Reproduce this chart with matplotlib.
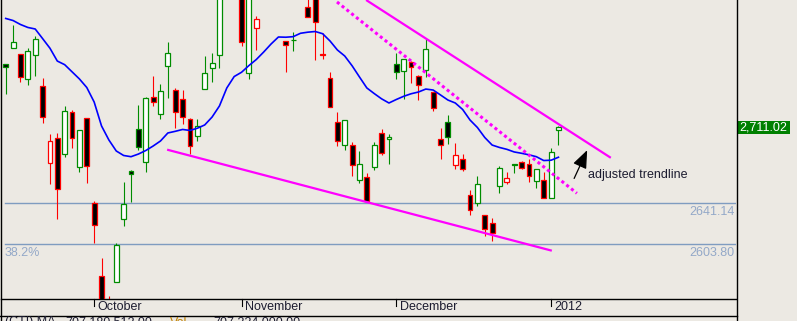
import matplotlib
matplotlib.use("Agg")
import matplotlib.pyplot as plt
from matplotlib.patches import Rectangle, FancyArrowPatch
from matplotlib.lines import Line2D

plt.rcParams['font.family'] = ['Liberation Sans', 'DejaVu Sans']

# daily bars, index 0..75 (a few sit above the visible range)
opens = [2767.7, 2782.3, 2776.9, 2754.6, 2775.9, 2747.7, 2678.1, 2700.4, 2686.3, 2724.0,
         2673.9, 2718.6, 2641.7, 2574.7, 2548.0, 2569.2, 2627.1, 2670.3, 2708.5, 2679.0,
         2737.7, 2722.2, 2766.5, 2744.1, 2736.4, 2718.2, 2702.2, 2745.0, 2764.1, 2775.9,
         2835.0, 2850.0, 2840.0, 2759.5, 2800.5, 2830.0, 2845.0, 2842.0, 2788.7, 2789.6,
         2835.0, 2819.7, 2830.0, 2777.1, 2755.0, 2714.9, 2694.5, 2694.0, 2662.1, 2664.8,
         2674.5, 2704.9, 2699.4, 2767.7, 2761.9, 2770.1, 2756.8, 2762.3, 2742.2, 2699.4,
         2714.9, 2675.8, 2681.2, 2649.0, 2641.7, 2630.2, 2622.9, 2656.6, 2660.3, 2677.0,
         2678.5, 2676.7, 2661.2, 2662.1, 2645.7, 2707.6]
highs = [2767.9, 2803.5, 2777.5, 2782.3, 2793.5, 2755.3, 2704.3, 2704.9, 2729.8, 2726.1,
         2707.6, 2718.6, 2643.2, 2591.6, 2557.0, 2604.7, 2660.6, 2671.5, 2730.7, 2737.7,
         2757.1, 2749.8, 2788.1, 2745.9, 2744.3, 2718.5, 2717.9, 2775.3, 2778.0, 2838.0,
         2858.0, 2862.0, 2848.0, 2836.0, 2811.7, 2850.0, 2860.0, 2855.0, 2789.0, 2797.2,
         2845.0, 2830.0, 2836.0, 2796.0, 2760.7, 2724.3, 2716.7, 2696.7, 2688.8, 2668.5,
         2697.0, 2708.5, 2704.0, 2777.8, 2772.3, 2770.7, 2758.3, 2790.5, 2742.8, 2709.7,
         2721.6, 2695.8, 2686.1, 2653.0, 2666.0, 2630.5, 2627.5, 2675.1, 2669.7, 2677.0,
         2679.4, 2681.2, 2672.1, 2669.7, 2691.5, 2711.3]
lows = [2740.7, 2782.3, 2751.9, 2749.2, 2757.1, 2714.6, 2659.0, 2627.1, 2683.6, 2691.8,
        2669.7, 2659.9, 2605.3, 2530.0, 2525.0, 2569.2, 2620.8, 2642.3, 2689.7, 2669.7,
        2729.8, 2718.2, 2737.3, 2710.0, 2713.4, 2686.1, 2698.2, 2745.0, 2751.9, 2764.6,
        2830.0, 2836.0, 2784.7, 2754.6, 2780.8, 2828.0, 2835.0, 2830.0, 2761.0, 2780.1,
        2828.0, 2810.5, 2771.7, 2772.8, 2729.1, 2693.6, 2690.0, 2666.3, 2659.9, 2643.5,
        2671.8, 2685.1, 2677.0, 2754.6, 2736.4, 2751.0, 2735.5, 2755.9, 2725.5, 2681.8,
        2695.4, 2672.7, 2670.8, 2630.8, 2639.0, 2611.7, 2607.1, 2650.8, 2658.7, 2669.0,
        2672.4, 2660.6, 2655.4, 2645.7, 2645.7, 2694.3]
closes = [2765.0, 2787.8, 2755.9, 2779.9, 2790.5, 2719.5, 2697.6, 2653.9, 2724.9, 2700.4,
          2707.6, 2675.1, 2621.1, 2540.0, 2535.0, 2603.2, 2640.2, 2667.6, 2692.2, 2736.8,
          2733.1, 2743.2, 2777.8, 2724.0, 2719.5, 2693.3, 2711.3, 2759.5, 2768.7, 2832.0,
          2850.0, 2845.0, 2787.8, 2830.0, 2808.7, 2845.0, 2840.0, 2836.0, 2785.6, 2790.2,
          2832.0, 2810.5, 2806.0, 2776.6, 2729.1, 2697.6, 2716.7, 2675.8, 2676.7, 2643.5,
          2694.0, 2687.2, 2701.3, 2760.5, 2772.3, 2765.0, 2748.6, 2781.4, 2727.7, 2694.0,
          2701.5, 2684.9, 2672.1, 2634.8, 2658.5, 2617.5, 2613.8, 2673.0, 2663.9, 2675.8,
          2673.0, 2665.7, 2672.1, 2645.7, 2687.6, 2711.02]
# outline colour: 1 = green (up day), 0 = red (down day)
up_day = [1, 1, 0, 1, 1, 0, 0, 0, 1, 0,
          1, 0, 0, 0, 0, 1, 1, 1, 1, 1,
          0, 1, 1, 0, 0, 0, 1, 1, 1, 1,
          1, 0, 0, 1, 0, 1, 0, 0, 0, 1,
          1, 0, 0, 0, 0, 0, 1, 0, 1, 0,
          1, 0, 1, 1, 1, 0, 0, 1, 0, 0,
          1, 0, 0, 0, 1, 0, 0, 1, 0, 1,
          0, 0, 1, 0, 1, 1]
moving_avg = [2809.5, 2807.6, 2804.0, 2801.3, 2799.9, 2791.2, 2782.4, 2770.7, 2767.4, 2760.9,
              2754.4, 2746.6, 2733.4, 2711.6, 2698.8, 2688.8, 2684.7, 2683.6, 2686.0, 2689.2,
              2693.3, 2697.9, 2705.2, 2706.7, 2708.4, 2707.5, 2709.5, 2712.5, 2719.7, 2729.8,
              2746.2, 2756.6, 2760.5, 2766.6, 2772.1, 2778.9, 2786.2, 2792.6, 2792.4, 2792.9,
              2796.0, 2797.0, 2797.6, 2795.6, 2789.0, 2780.8, 2775.3, 2766.4, 2756.2, 2746.2,
              2741.1, 2736.3, 2732.5, 2735.7, 2738.6, 2740.9, 2742.5, 2745.2, 2744.3, 2739.8,
              2735.2, 2732.5, 2726.6, 2717.0, 2710.2, 2701.1, 2694.2, 2692.0, 2690.3, 2687.9,
              2686.7, 2685.3, 2683.6, 2680.1, 2680.4, 2683.1]

month_pos = [12, 32, 53, 74]
month_labels = ['October', 'November', 'December', '2012']

fib_levels = [2641.14, 2603.80]
fib_texts = ['2641.14', '2603.80']

# hand drawn trendlines (bar index, price)
support_x = [21.9, 74.1]
support_y = [2690.0, 2598.0]
resist_x = [48.9, 82.1]
resist_y = [2826.3, 2682.6]
dotted_x = [44.95, 77.5]
dotted_y = [2824.5, 2650.3]
note_text = 'adjusted trendline'
note_xy = (79.05, 2667.2)
arrow_from = (76.97, 2661.5)
arrow_to = (79.05, 2691.8)

last_price = '2,711.02'

BG = '#ece9e3'
RED = '#ff0000'
GREEN = '#008c00'
MAG = '#ff00ff'
FIB = '#7f9cc0'
TXT = '#1c1c30'

W, H = 797, 321
fig = plt.figure(figsize=(W / 100, H / 100), dpi=100, facecolor=BG)
ax = fig.add_axes([1 / W, 1 - 299 / H, 735 / W, 299 / H], facecolor=BG)
ax.set_xlim(-0.64, 99.09)
ax.set_ylim(2554.0, 2826.3)

for lv, lt in zip(fib_levels, fib_texts):
    ax.plot([-0.1, 99.09], [lv, lv], color=FIB, lw=1.0, zorder=1)
    ax.text(0.998, lv - 2.0, lt, transform=ax.get_yaxis_transform(), ha='right', va='top',
            fontsize=9, color='#93a8c8')
ax.text(-0.1, fib_levels[1] - 2.0, '38.2%', ha='left', va='top', fontsize=9, color='#93a8c8')

body_w = 0.66
for i in range(len(opens)):
    o, h, l, c = opens[i], highs[i], lows[i], closes[i]
    edge = GREEN if up_day[i] else RED
    ax.plot([i, i], [l, h], color=edge, lw=0.8, zorder=2, solid_capstyle='butt')
    face = 'white' if c > o else 'black'
    bottom = min(o, c)
    height = max(abs(c - o), 0.3)
    ax.add_patch(Rectangle((i - body_w / 2, bottom), body_w, height, facecolor=face,
                           edgecolor=edge, lw=0.9, zorder=3))

ax.plot(range(len(moving_avg)), moving_avg, color='#0000ff', lw=1.2, zorder=4)

ax.plot(support_x, support_y, color=MAG, lw=1.6, zorder=5, solid_capstyle='butt')
ax.plot(resist_x, resist_y, color=MAG, lw=1.6, zorder=5, solid_capstyle='butt')
ax.plot(dotted_x, dotted_y, color=MAG, lw=2.2, linestyle=(0, (1.0, 1.0)), zorder=5)

ax.add_patch(FancyArrowPatch(arrow_from, arrow_to, arrowstyle='-|>,head_length=1.0,head_width=0.4',
                             mutation_scale=11, color='black', lw=0.9, zorder=6))
ax.text(note_xy[0], note_xy[1], note_text, ha='left', va='center', fontsize=9, color=TXT)

ax.set_xticks([])
ax.set_yticks([])
for s in ['top', 'right', 'left']:
    ax.spines[s].set_visible(False)
ax.spines['bottom'].set_color('black')
ax.spines['bottom'].set_linewidth(1.0)

# month ticks and labels under the axis
for p, lab in zip(month_pos, month_labels):
    ax.plot([p, p], [0, -7 / 299], transform=ax.get_xaxis_transform(), color='black', lw=0.8,
            clip_on=False)
    ax.text(p + 0.5, -8 / 299, lab, transform=ax.get_xaxis_transform(), ha='left', va='center',
            fontsize=9, color=TXT)

# frame lines of the chart window
fig.add_artist(Line2D([0.6 / W, 0.6 / W], [0, 1], color='black', lw=1.0))
fig.add_artist(Line2D([736.5 / W, 736.5 / W], [0, 1], color='black', lw=1.0))
fig.add_artist(Line2D([0, 736.5 / W], [1 - 315.5 / H, 1 - 315.5 / H], color='black', lw=1.0))

# last price tag on the right scale
fig.add_artist(Rectangle((737.5 / W, 1 - 134.3 / H), 52.5 / W, 13.6 / H, transform=fig.transFigure,
                         facecolor='#008000', edgecolor='none'))
fig.text(763.7 / W, 1 - 127.5 / H, last_price, ha='center', va='center', fontsize=9, color='white')

# status line, mostly cut off at the bottom edge
fig.text(5 / W, 1 - 316.5 / H, '(CTI) MA', ha='left', va='top', fontsize=9, color=TXT)
fig.text(65 / W, 1 - 316.5 / H, '707,180,512.00', ha='left', va='top', fontsize=9, color=TXT)
fig.text(170 / W, 1 - 316.5 / H, 'Vol', ha='left', va='top', fontsize=9, color='#c08000')
fig.text(213 / W, 1 - 316.5 / H, '707,224,000.00', ha='left', va='top', fontsize=9, color=TXT)

fig.savefig('out.png', dpi=100, facecolor=BG)
